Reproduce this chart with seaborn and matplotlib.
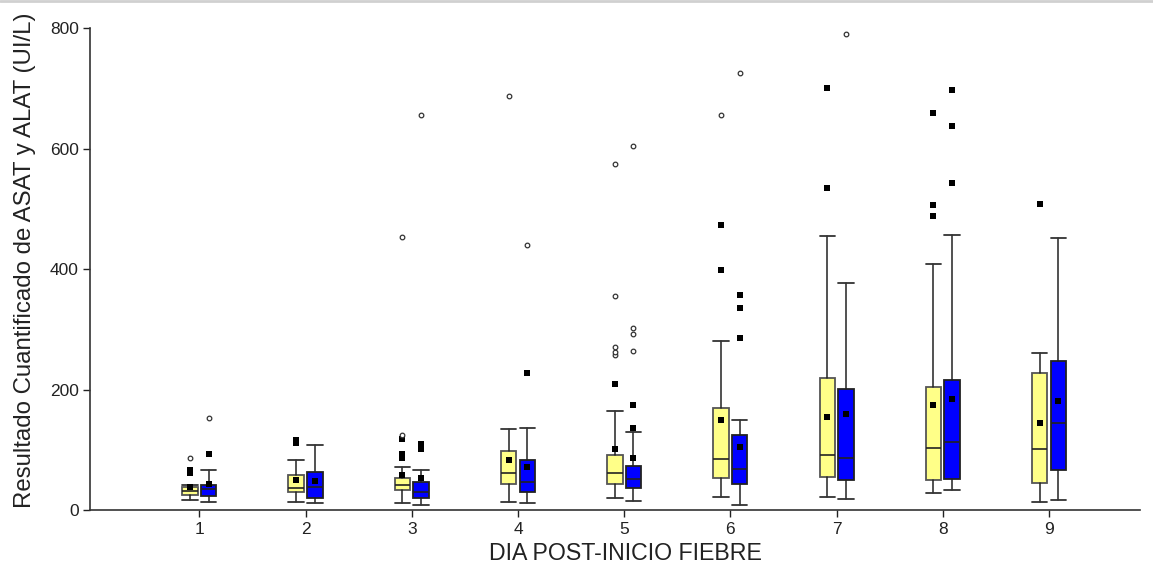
import matplotlib
matplotlib.use("Agg")
import matplotlib.pyplot as plt
from matplotlib.lines import Line2D
import seaborn as sns
import pandas as pd

# ---------------- data ----------------
days = [1, 2, 3, 4, 5, 6, 7, 8, 9]
day_labels = ["1", "2", "3", "4", "5", "6", "7", "8", "9"]

# ASAT (yellow)
asat_wlo = [17, 14, 12, 14, 20, 22, 22, 28, 13]
asat_q1 = [26, 30, 33, 44, 43, 53, 55, 50, 45]
asat_med = [32, 37, 41, 62, 62, 85, 92, 104, 102]
asat_q3 = [38, 58, 53, 98, 92, 169, 220, 205, 228]
asat_whi = [42, 83, 72, 134, 165, 281, 455, 409, 261]
asat_mean = [39, 50, 59, 84, 101, 150, 155, 175, 145]
asat_mild = {1: [62, 67], 2: [112, 117], 3: [86, 93, 118], 5: [210],
             6: [398, 473], 7: [534, 700], 8: [488, 507, 660], 9: [509]}
asat_extreme = {1: [87], 3: [124, 454], 4: [688],
                5: [257, 263, 271, 356, 574], 6: [656]}

# ALAT (blue)
alat_wlo = [14, 12, 8, 12, 15, 9, 18, 33, 17]
alat_q1 = [24, 20, 20, 31, 37, 43, 50, 52, 66]
alat_med = [35, 38, 31, 47, 51, 68, 87, 113, 144]
alat_q3 = [41, 64, 47, 83, 74, 124, 201, 216, 247]
alat_whi = [66, 108, 66, 136, 129, 150, 377, 456, 451]
alat_mean = [44, 48, 54, 71, 86, 105, 160, 185, 181]
alat_mild = {1: [93], 3: [102, 110], 4: [227], 5: [137, 174],
             6: [286, 336, 358], 8: [543, 637, 698]}
alat_extreme = {1: [153], 3: [656], 4: [441], 5: [265, 292, 303, 604],
                6: [726], 7: [790]}

# ---------------- style ----------------
sns.set_theme(style="ticks")
plt.rcParams["font.family"] = ["Liberation Sans", "DejaVu Sans"]

fig = plt.figure(figsize=(11.53, 5.65), dpi=100)
ax = fig.add_axes([0.078, 0.097, 0.911, 0.853])

OFF = 0.088
WID = 0.145

series = [
    ("ASAT", -OFF, "#FFFF88", "#555555", asat_wlo, asat_q1, asat_med, asat_q3,
     asat_whi, asat_mean, asat_mild, asat_extreme),
    ("ALAT", OFF, "#0000FF", "#222222", alat_wlo, alat_q1, alat_med, alat_q3,
     alat_whi, alat_mean, alat_mild, alat_extreme),
]

rows = []
for name, off, fc, ec, wlo, q1, med, q3, whi, mean, mild, extreme in series:
    stats = []
    for i, d in enumerate(days):
        stats.append(dict(whislo=wlo[i], q1=q1[i], med=med[i], q3=q3[i],
                          whishi=whi[i], fliers=[], label=str(d)))
    pos = [d + off for d in days]
    ax.bxp(stats, positions=pos, widths=WID, capwidths=WID,
           patch_artist=True, showfliers=False, manage_ticks=False,
           boxprops=dict(facecolor=fc, edgecolor=ec, linewidth=1.3),
           medianprops=dict(color="#222222", linewidth=1.2),
           whiskerprops=dict(color="#222222", linewidth=1.1),
           capprops=dict(color="#333333", linewidth=1.3),
           zorder=2)
    for i, d in enumerate(days):
        rows.append(dict(x=d + off, y=mean[i], kind="mean"))
        for v in mild.get(d, []):
            rows.append(dict(x=d + off, y=v, kind="mild"))
        for v in extreme.get(d, []):
            rows.append(dict(x=d + off, y=v, kind="extreme"))

df = pd.DataFrame(rows)
sq = df[df["kind"] != "extreme"]
ci = df[df["kind"] == "extreme"]
sns.scatterplot(data=sq, x="x", y="y", marker="s", s=18, color="black",
                edgecolor="black", linewidth=0, ax=ax, zorder=4, legend=False)
sns.scatterplot(data=ci, x="x", y="y", marker="o", s=11, facecolor="white",
                edgecolor="#333333", linewidth=0.9, ax=ax, zorder=4, legend=False)

ax.set_xlim(-0.03, 9.86)
ax.set_ylim(0, 800)
ax.set_xticks(days)
ax.set_xticklabels(day_labels)
ax.set_yticks([0, 200, 400, 600, 800])
ax.tick_params(axis="both", labelsize=12.5, colors="#222222", length=5, width=1)
ax.tick_params(axis="y", pad=3)
ax.set_xlabel("DIA POST-INICIO FIEBRE", fontsize=16.7, color="#222222")
ax.set_ylabel("Resultado Cuantificado de ASAT y ALAT (UI/L)", fontsize=17.3,
              color="#222222")
ax.xaxis.set_label_coords(0.5095, -0.0892, transform=ax.transAxes)
ax.yaxis.set_label_coords(-0.0615, 0.5176, transform=ax.transAxes)
ax.xaxis.label.set_va("center")
ax.yaxis.label.set_va("center")
sns.despine(ax=ax)
for s in ("left", "bottom"):
    ax.spines[s].set_color("#333333")
    ax.spines[s].set_linewidth(1.2)

fig.add_artist(Line2D([0, 1], [0.998, 0.998], transform=fig.transFigure,
                      color="#d0d0d0", linewidth=2))

fig.savefig("out.png", dpi=100)
